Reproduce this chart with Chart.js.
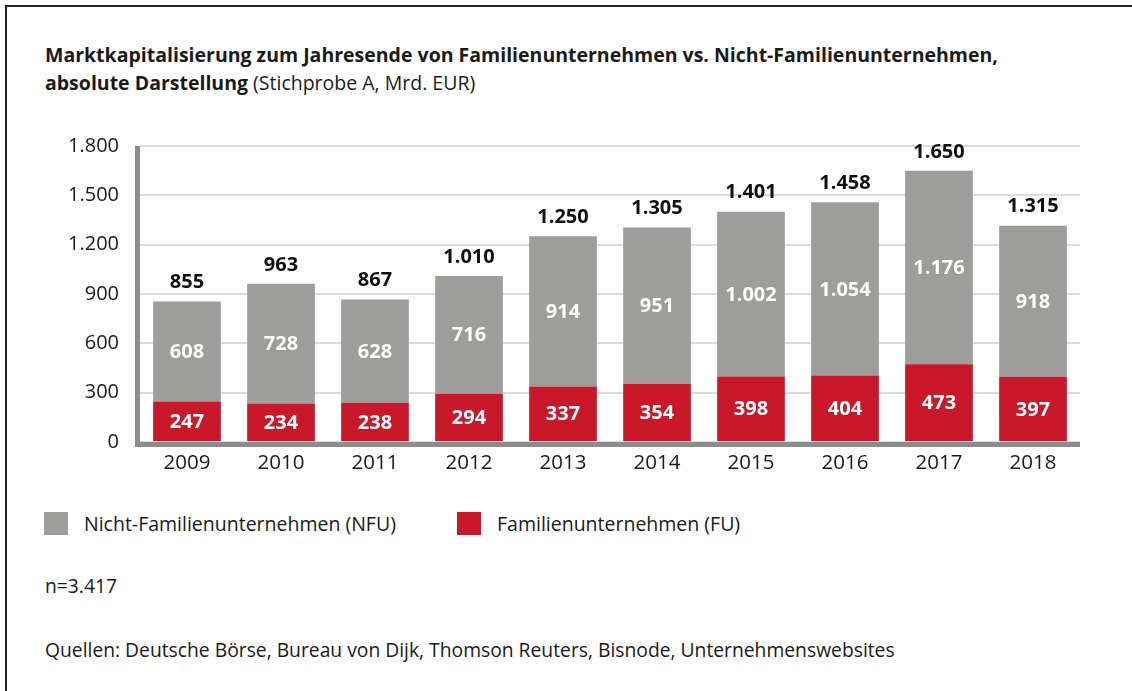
<!DOCTYPE html>
<html lang="de">
<head>
<meta charset="utf-8">
<script src="https://cdn.jsdelivr.net/npm/chart.js@4/dist/chart.umd.min.js"></script>
<style>
  html, body { margin: 0; padding: 0; background: #fff; }
  body { width: 1132px; height: 691px; position: relative; overflow: hidden; font-family: "Open Sans", Lato, sans-serif; color: #1a1a1a; }
  .frame { position: absolute; left: 5px; top: 5px; width: 1200px; height: 800px; border-left: 2px solid #222; border-top: 2px solid #222; }
  .title { position: absolute; left: 45px; top: 41px; font-size: 19.5px; line-height: 28px; }
  .title b { font-weight: 700; }
  .chart-box { position: absolute; left: 40px; top: 113px; width: 1060px; height: 367px; }
  .legend { position: absolute; top: 512px; font-size: 19.5px; line-height: 23px; }
  .legend span.sw { display: inline-block; width: 24px; height: 23px; vertical-align: top; margin-right: 16px; }
  .note { position: absolute; left: 45px; font-size: 19.3px; }
</style>
</head>
<body>
<div class="frame"></div>
<div class="title"><b>Marktkapitalisierung zum Jahresende von Familienunternehmen vs. Nicht-Familienunternehmen,<br>absolute Darstellung</b> (Stichprobe A, Mrd. EUR)</div>
<div class="chart-box"><canvas id="mcapChart"></canvas></div>
<div class="legend" style="left:44px"><span class="sw" style="background:#9d9d9c"></span>Nicht-Familienunternehmen (NFU)</div>
<div class="legend" style="left:457px"><span class="sw" style="background:#c8182a"></span>Familienunternehmen (FU)</div>
<div class="note" style="top:572px">n=3.417</div>
<div class="note" style="top:636px">Quellen: Deutsche Börse, Bureau von Dijk, Thomson Reuters, Bisnode, Unternehmenswebsites</div>

<script>
const years = ['2009', '2010', '2011', '2012', '2013', '2014', '2015', '2016', '2017', '2018'];
const fuValues = [247, 234, 238, 294, 337, 354, 398, 404, 473, 397];
const nfuValues = [608, 728, 628, 716, 914, 951, 1002, 1054, 1176, 918];
const totals = [855, 963, 867, 1010, 1250, 1305, 1401, 1458, 1650, 1315];
const yTicks = [0, 300, 600, 900, 1200, 1500, 1800];

const FONT = '"Open Sans", Lato, sans-serif';

// German thousands separator
function fmt(n) {
  return String(n).replace(/\B(?=(\d{3})+(?!\d))/g, '.');
}

// draws segment values inside the bars and totals above
const barLabels = {
  id: 'barLabels',
  afterDatasetsDraw(chart) {
    const ctx = chart.ctx;
    ctx.save();
    ctx.textAlign = 'center';
    ctx.textBaseline = 'middle';
    ctx.font = 'bold 20px ' + FONT;
    chart.data.datasets.forEach((ds, i) => {
      const meta = chart.getDatasetMeta(i);
      meta.data.forEach((bar, j) => {
        ctx.fillStyle = '#ffffff';
        ctx.fillText(fmt(ds.data[j]), bar.x, (bar.y + bar.base) / 2 + 1);
      });
    });
    const top = chart.getDatasetMeta(chart.data.datasets.length - 1);
    top.data.forEach((bar, j) => {
      ctx.fillStyle = '#111111';
      ctx.fillText(fmt(totals[j]), bar.x, bar.y - 19);
    });
    ctx.restore();
  }
};

// thick grey axis lines on the left and bottom
const axisLines = {
  id: 'axisLines',
  afterDatasetsDraw(chart) {
    const { ctx, chartArea } = chart;
    ctx.save();
    ctx.strokeStyle = '#8c8c8c';
    ctx.lineWidth = 5;
    ctx.beginPath();
    ctx.moveTo(chartArea.left - 2.5, chartArea.top);
    ctx.lineTo(chartArea.left - 2.5, chartArea.bottom + 2.5);
    ctx.lineTo(chartArea.right, chartArea.bottom + 2.5);
    ctx.stroke();
    ctx.restore();
  }
};

new Chart(document.getElementById('mcapChart'), {
  type: 'bar',
  data: {
    labels: years,
    datasets: [
      { label: 'Familienunternehmen (FU)', data: fuValues, backgroundColor: '#c8182a', categoryPercentage: 1, barPercentage: 0.72 },
      { label: 'Nicht-Familienunternehmen (NFU)', data: nfuValues, backgroundColor: '#9d9d9c', categoryPercentage: 1, barPercentage: 0.72 }
    ]
  },
  options: {
    responsive: true,
    maintainAspectRatio: false,
    animation: false,
    layout: { padding: { top: 3, right: 20, left: 0, bottom: 0 } },
    plugins: { legend: { display: false }, tooltip: { enabled: false } },
    scales: {
      x: {
        stacked: true,
        grid: { display: false, drawTicks: false },
        border: { display: false },
        ticks: { color: '#1a1a1a', font: { family: FONT, size: 20.5 }, padding: 9 },
        afterFit(scale) { scale.height = 38; }
      },
      y: {
        stacked: true,
        min: 0,
        max: 1800,
        afterBuildTicks(scale) { scale.ticks = yTicks.map(v => ({ value: v })); },
        grid: { color: '#dcdcdc', lineWidth: 2, drawTicks: false },
        border: { display: false },
        ticks: {
          color: '#1a1a1a',
          font: { family: FONT, size: 20 },
          padding: 21,
          callback: v => fmt(v)
        },
        afterFit(scale) { scale.width = 100; }
      }
    }
  },
  plugins: [barLabels, axisLines]
});
</script>
</body>
</html>
